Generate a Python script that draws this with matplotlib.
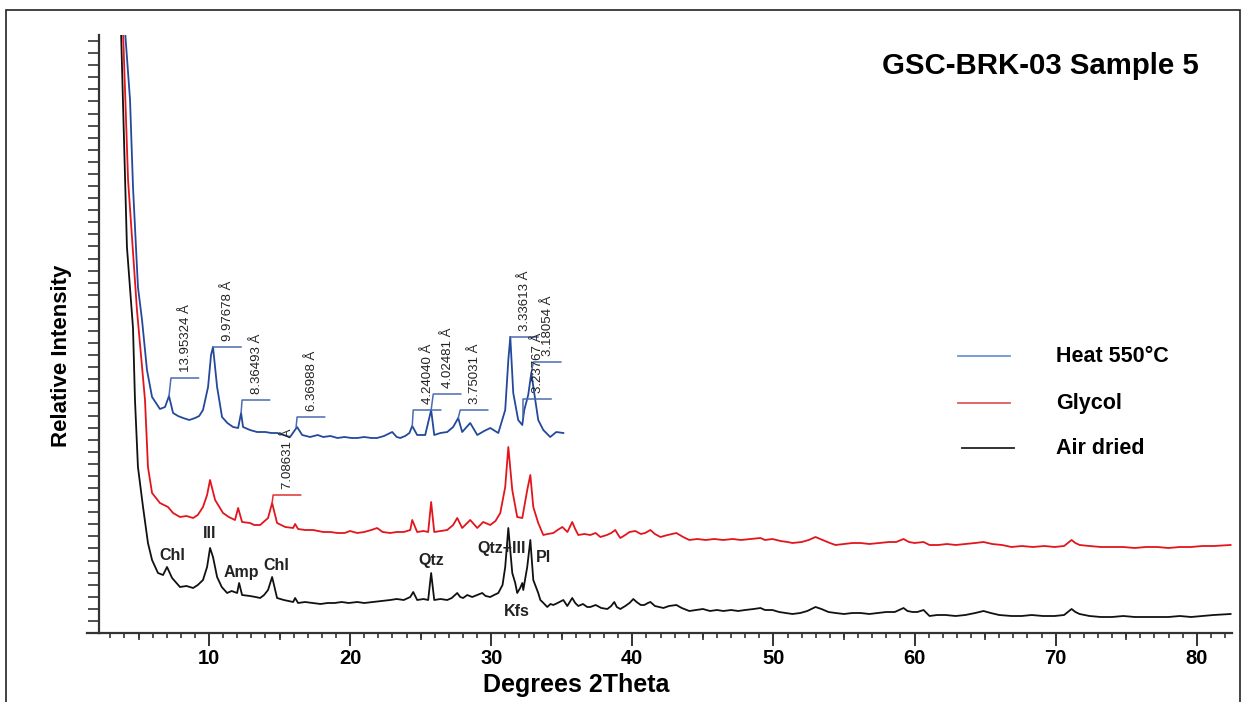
import numpy as np
import matplotlib
matplotlib.use('Agg')
import matplotlib.pyplot as plt
from matplotlib.lines import Line2D
from matplotlib.patches import Rectangle

plt.rcParams['font.family'] = ['Liberation Sans', 'DejaVu Sans']

# Air dried (black)
air_x = [3.76, 4.18, 4.40, 4.61, 4.75, 4.96, 5.32, 5.67, 5.96, 6.38, 6.74, 7.02, 7.38, 7.94,
         8.4, 8.87, 9.2, 9.57, 9.86, 10.07, 10.28, 10.57, 10.9, 11.28, 11.6, 11.99, 12.13,
         12.34, 12.9, 13.3, 13.62, 13.9, 14.18, 14.47, 14.82, 15.3, 15.96, 16.10, 16.31,
         16.8, 17.38, 17.9, 18.4, 18.9, 19.4, 19.9, 20.50, 21.0, 21.63, 22.2, 22.84, 23.3,
         23.8, 24.26, 24.47, 24.75, 25.2, 25.53, 25.74, 25.96, 26.4, 26.88, 27.2, 27.59,
         27.8, 28.01, 28.3, 28.65, 29.0, 29.36, 29.6, 29.93, 30.2, 30.50, 30.8, 30.99, 31.21,
         31.49, 31.70, 31.84, 32.05, 32.20, 32.27, 32.55, 32.77, 32.98, 33.33, 33.48, 33.7,
         33.97, 34.2, 34.4, 34.7, 35.11, 35.39, 35.74, 35.95, 36.17, 36.5, 36.8, 37.02, 37.4,
         37.8, 38.23, 38.5, 38.72, 38.9, 39.15, 39.5, 39.8, 40.07, 40.3, 40.6, 40.85, 41.1,
         41.28, 41.6, 41.9, 42.2, 42.6, 43.12, 43.5, 44.04, 44.5, 45.0, 45.5, 46.0, 46.45,
         47.0, 47.5, 48.0, 48.6, 49.08, 49.4, 49.93, 50.4, 50.9, 51.35, 51.9, 52.4, 52.98,
         53.4, 53.9, 54.4, 55.0, 55.6, 56.17, 56.8, 57.4, 58.0, 58.6, 59.22, 59.5, 59.86,
         60.2, 60.64, 61.06, 61.6, 62.2, 62.91, 63.6, 64.3, 64.89, 65.4, 66.0, 66.88, 67.6,
         68.3, 69.1, 69.93, 70.6, 71.13, 71.4, 71.70, 72.4, 73.2, 74.0, 74.8, 75.6, 76.4,
         77.2, 78.0, 78.8, 79.6, 80.4, 81.2, 82.4]
air_y = [603, 386, 345, 305, 233, 166, 126, 90, 73, 60, 58, 66, 55, 46,
         47, 45, 48, 53, 66, 85, 76, 56, 46, 40, 42, 40, 50,
         38, 37, 36, 35, 38, 43, 56, 35, 33, 31, 35, 30,
         31, 30, 29, 30, 30, 31, 30, 31, 30, 31, 32, 33, 34,
         33, 36, 41, 33, 34, 33, 60, 33, 34, 33, 35, 40,
         36, 35, 38, 36, 38, 40, 37, 36, 38, 40, 48, 66, 105,
         60, 50, 40, 45, 50, 43, 66, 93, 53, 40, 33, 30,
         26, 29, 28, 30, 33, 27, 35, 30, 27, 29, 26, 26, 28,
         25, 24, 27, 31, 26, 24, 27, 30, 34, 31, 28, 28, 30,
         31, 27, 26, 25, 27, 28, 25, 22, 23, 24, 22, 23, 22,
         23, 22, 23, 24, 25, 23, 23, 21, 20, 19, 20, 22, 26,
         24, 21, 20, 19, 20, 20, 19, 20, 21, 21, 25, 22, 21,
         21, 23, 17, 18, 18, 17, 18, 20, 22, 20, 18, 17, 17,
         18, 17, 17, 18, 24, 21, 19, 17, 16, 16, 17, 16, 16,
         16, 16, 17, 16, 17, 18, 19]

# Glycol (red)
gly_x = [3.90, 4.26, 4.89, 5.46, 5.67, 5.96, 6.52, 7.09, 7.45, 7.94, 8.4, 8.87, 9.2, 9.57,
         9.86, 10.07, 10.43, 10.99, 11.4, 11.84, 12.06, 12.34, 12.9, 13.2, 13.62, 14.18,
         14.47, 14.82, 15.4, 15.96, 16.10, 16.31, 16.8, 17.38, 18.09, 18.6, 19.1, 19.6, 20.0,
         20.50, 21.0, 21.5, 21.91, 22.3, 22.84, 23.3, 23.8, 24.26, 24.40, 24.75, 25.2, 25.53,
         25.74, 25.96, 26.4, 26.88, 27.3, 27.59, 27.94, 28.51, 29.01, 29.43, 29.93, 30.3,
         30.64, 30.99, 31.21, 31.49, 31.84, 32.20, 32.55, 32.77, 32.98, 33.33, 33.69, 34.0,
         34.4, 34.7, 35.04, 35.4, 35.74, 35.95, 36.17, 36.6, 37.02, 37.4, 37.73, 38.2, 38.5,
         38.79, 39.0, 39.15, 39.5, 39.8, 40.21, 40.6, 40.9, 41.28, 41.6, 41.99, 42.5, 43.12,
         43.6, 44.04, 44.6, 45.2, 45.8, 46.45, 47.1, 47.7, 48.4, 49.08, 49.4, 49.93, 50.5,
         51.0, 51.35, 52.0, 52.5, 52.98, 53.5, 54.0, 54.40, 55.0, 55.6, 56.17, 56.8, 57.5,
         58.2, 58.7, 59.22, 59.6, 60.0, 60.64, 61.06, 61.7, 62.3, 62.91, 63.6, 64.3, 64.89,
         65.5, 66.2, 66.88, 67.6, 68.4, 69.2, 69.93, 70.6, 71.13, 71.4, 71.70, 72.4, 73.2,
         74.0, 74.8, 75.6, 76.4, 77.2, 78.0, 78.8, 79.6, 80.4, 81.2, 82.4]
gly_y = [603, 453, 323, 233, 166, 140, 130, 126, 120, 116, 117, 115, 118, 126,
         138, 153, 133, 120, 116, 113, 125, 111, 110, 108, 108, 115,
         130, 110, 106, 105, 109, 104, 103, 103, 101, 101, 100, 100, 102,
         100, 101, 103, 105, 101, 100, 101, 101, 103, 113, 101, 102, 101,
         131, 101, 102, 103, 108, 115, 105, 113, 105, 111, 108, 112,
         120, 146, 186, 143, 116, 115, 143, 158, 126, 110, 98, 99,
         100, 103, 106, 101, 111, 104, 98, 99, 98, 100, 96, 98, 100,
         103, 98, 95, 98, 101, 102, 99, 100, 103, 99, 96, 98, 100,
         96, 93, 94, 93, 94, 93, 94, 93, 94, 95, 93, 94, 92,
         91, 90, 91, 93, 96, 93, 90, 88, 89, 90, 90, 89, 90,
         91, 91, 94, 91, 90, 91, 88, 88, 89, 88, 89, 90, 91,
         89, 88, 86, 87, 86, 87, 86, 87, 93, 90, 88, 87, 86,
         86, 86, 85, 86, 86, 85, 86, 86, 87, 87, 88]

# Heat 550°C (blue)
heat_x = [4.04, 4.40, 4.61, 4.96, 5.25, 5.60, 5.96, 6.52, 6.88, 7.16, 7.45, 7.8, 8.16, 8.6,
          9.01, 9.3, 9.57, 9.93, 10.14, 10.28, 10.57, 10.92, 11.3, 11.70, 12.06, 12.27,
          12.41, 12.9, 13.40, 14.0, 14.4, 14.82, 15.3, 15.74, 16.24, 16.60, 17.16, 17.7,
          18.09, 18.6, 19.1, 19.6, 20.1, 20.50, 21.0, 21.5, 21.91, 22.4, 22.98, 23.3, 23.55,
          23.9, 24.2, 24.40, 24.75, 25.32, 25.74, 25.96, 26.4, 26.88, 27.3, 27.66, 27.94,
          28.51, 29.01, 29.5, 29.93, 30.50, 30.99, 31.21, 31.35, 31.56, 31.91, 32.20, 32.34,
          32.62, 32.84, 33.12, 33.33, 33.69, 34.18, 34.61, 35.11]
heat_y = [603, 533, 446, 346, 313, 263, 236, 224, 226, 237, 220, 217, 215, 213,
          215, 217, 223, 246, 278, 286, 246, 216, 210, 206, 205, 220,
          206, 203, 201, 201, 200, 200, 198, 196, 206, 198, 196, 198,
          196, 197, 195, 196, 195, 195, 196, 195, 195, 197, 201, 196, 195,
          197, 200, 207, 198, 198, 223, 198, 200, 201, 206, 215, 201,
          210, 198, 202, 205, 200, 223, 273, 296, 240, 213, 208, 223,
          238, 260, 233, 213, 203, 196, 201, 200]

# d-spacing labels: text, peak x, peak y, bar x, bar y, colour
d_labels = [('13.95324 Å', 7.16, 237, 7.30, 255, 'b'),
            ('9.97678 Å', 10.28, 286, 10.28, 286, 'b'),
            ('8.36493 Å', 12.27, 220, 12.34, 233, 'b'),
            ('6.36988 Å', 16.17, 206, 16.24, 216, 'b'),
            ('7.08631 Å', 14.47, 130, 14.54, 138, 'r'),
            ('4.24040 Å', 24.40, 207, 24.47, 223, 'b'),
            ('4.02481 Å', 25.74, 223, 25.89, 239, 'b'),
            ('3.75031 Å', 27.66, 215, 27.80, 223, 'b'),
            ('3.33613 Å', 31.35, 296, 31.35, 296, 'b'),
            ('3.23767 Å', 32.27, 216, 32.27, 234, 'b'),
            ('3.18054 Å', 32.84, 260, 32.98, 271, 'b')]

minerals = ['Chl', 'Ill', 'Amp', 'Chl', 'Qtz', 'Qtz+Ill', 'Kfs', 'Pl']
mineral_x = [7.38, 10.07, 12.27, 14.75, 25.74, 30.71, 31.84, 33.69]
mineral_y = [77, 99, 61, 68, 73, 85, 21, 76]

series_names = ['Heat 550°C', 'Glycol', 'Air dried']

fig = plt.figure(figsize=(12.44, 7.02), dpi=100)
W, H = 1244.0, 702.0
ax = fig.add_axes([99 / W, 69 / H, (1232 - 99) / W, (633 - 35) / H])

ax.plot(air_x, air_y, color='#111111', lw=1.3)
ax.plot(gly_x, gly_y, color='#e3151c', lw=1.3)
ax.plot(heat_x, heat_y, color='#24489c', lw=1.3)

for txt, px, py, bx, by, c in d_labels:
    col = '#4a6cb3' if c == 'b' else '#e03030'
    ax.plot([px, bx, bx + 1.95], [py, by, by], color=col, lw=1.1)
    ax.text(bx + 1.05, by + 6, txt, rotation=90, ha='center', va='bottom',
            fontsize=9.5, color='#222222')

for m, mx, my in zip(minerals, mineral_x, mineral_y):
    ax.text(mx, my, m, ha='center', va='center', fontsize=11.5,
            fontweight='bold', color='#222222')

ax.set_xlim(2.2, 82.5)
ax.set_ylim(0, 598)
for s in ['top', 'right']:
    ax.spines[s].set_visible(False)
for s in ['left', 'bottom']:
    ax.spines[s].set_linewidth(1.6)
    ax.spines[s].set_color('#333333')

ax.set_xticks(range(10, 81, 10))
ax.set_xticks(range(3, 83), minor=True)
ax.set_yticks(np.arange(0, 598, 12.08))
ax.set_yticklabels([])
ax.tick_params(axis='x', which='major', length=9, width=1.4, color='#333333',
               labelsize=14.5, pad=2.5)
ax.tick_params(axis='x', which='minor', length=3.5, width=1.2, color='#333333')
ax.tick_params(axis='y', which='major', length=8, width=1.2, color='#333333')
for lab in ax.get_xticklabels():
    lab.set_fontweight('bold')
ax.vlines(range(5, 81, 10), -0.011, 0, transform=ax.get_xaxis_transform(),
          color='#333333', lw=1.2, clip_on=False)
ax.plot([-0.011, 0], [0, 0], transform=ax.transAxes, color='#333333', lw=1.6,
        clip_on=False)

fig.text(576 / W, 1 - 685 / H, 'Degrees 2Theta', ha='center', va='center',
         fontsize=18, fontweight='bold')
fig.text(62 / W, 1 - 356 / H, 'Relative Intensity', ha='center', va='center',
         rotation=90, fontsize=16, fontweight='bold')
fig.text(1040 / W, 1 - 66 / H, 'GSC-BRK-03 Sample 5', ha='center', va='center',
         fontsize=21.2, fontweight='bold')

# legend drawn by hand
leg_cols = ['#6b97d2', '#e05a5a', '#222222']
leg_y = [356, 403, 448]
leg_x0 = [958, 958, 962]
for name, c, ly, lx in zip(series_names, leg_cols, leg_y, leg_x0):
    fig.add_artist(Line2D([lx / W, (lx + 52) / W], [1 - ly / H, 1 - ly / H],
                          color=c, lw=1.3))
    fig.text(1056 / W, 1 - ly / H, name, ha='left', va='center',
             fontsize=15.5, fontweight='bold')

fig.add_artist(Rectangle((6 / W, -0.01), (1240 - 6) / W, 1 - 10 / H + 0.01,
                         transform=fig.transFigure, fill=False,
                         edgecolor='#222222', lw=1.2))

fig.savefig('out.png', dpi=100)
